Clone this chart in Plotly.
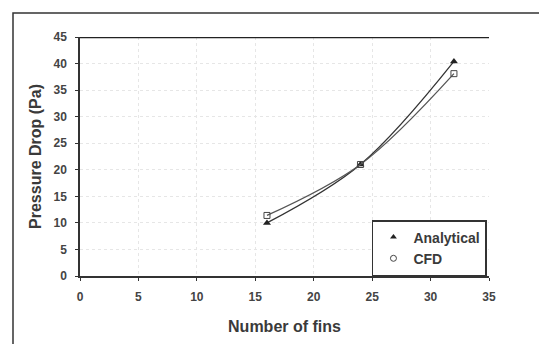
import plotly.graph_objects as go

fins = [16, 24, 32]
analytical = [10.0, 21.0, 40.4]
cfd = [11.4, 21.0, 38.1]

x_ticks = [0, 5, 10, 15, 20, 25, 30, 35]
y_ticks = [0, 5, 10, 15, 20, 25, 30, 35, 40, 45]

fig = go.Figure()
fig.add_trace(go.Scatter(x=fins, y=analytical, name="Analytical", mode="lines+markers",
                         showlegend=False,
                         line=dict(shape="spline", color="#333333", width=1.3),
                         marker=dict(symbol="triangle-up", size=7, color="#222222")))
fig.add_trace(go.Scatter(x=fins, y=cfd, name="CFD", mode="lines+markers",
                         showlegend=False,
                         line=dict(shape="spline", color="#555555", width=1.3),
                         marker=dict(symbol="square-open", size=6, color="#444444", line=dict(width=1))))
# legend entries (markers only, as in the reference)
fig.add_trace(go.Scatter(x=[None], y=[None], name="Analytical", mode="markers",
                         marker=dict(symbol="triangle-up", size=6, color="#222222")))
fig.add_trace(go.Scatter(x=[None], y=[None], name="CFD", mode="markers",
                         marker=dict(symbol="circle-open", size=6, color="#444444", line=dict(width=1))))

font = "Liberation Sans, Arial, sans-serif"
tfont = dict(family=font, size=12, color="#444444", weight="bold")
title_font = dict(family=font, size=16, color="#3a3a3a", weight="bold")
fig.update_layout(
    width=539, height=344,
    margin=dict(l=80, r=50, t=37, b=68),
    paper_bgcolor="white", plot_bgcolor="white",
    font=dict(family=font, color="#333333", size=12),
    showlegend=True,
    legend=dict(x=0.995, y=0.0, xanchor="right", yanchor="bottom",
                bordercolor="#333333", borderwidth=1.5, bgcolor="white",
                itemwidth=30, tracegroupgap=0,
                font=dict(family=font, size=14, color="#3a3a3a", weight="bold")),
    xaxis=dict(range=[0, 35], tickvals=x_ticks, showgrid=True, gridcolor="#e6e6e6",
               griddash="dot", gridwidth=1, zeroline=False, showline=True,
               linecolor="#333333", linewidth=1.5, ticks="outside", ticklen=3,
               tickcolor="#333333", tickfont=tfont, ticklabelstandoff=6,
               title=dict(text="Number of fins", font=title_font, standoff=18)),
    yaxis=dict(range=[0, 45], tickvals=y_ticks, showgrid=True, gridcolor="#e6e6e6",
               griddash="dot", gridwidth=1, zeroline=False, showline=True,
               linecolor="#333333", linewidth=1.5, ticks="outside", ticklen=3,
               tickcolor="#333333", tickfont=tfont, ticklabelstandoff=6,
               title=dict(text="Pressure Drop (Pa)", font=title_font, standoff=8)),
)
# top thick line at y=45
fig.add_shape(type="line", xref="x", yref="y", x0=0, x1=35, y0=45, y1=45,
              line=dict(color="#222222", width=2.5))
# outer frame (extends past image right/bottom)
fig.add_shape(type="rect", xref="paper", yref="paper",
              x0=-67/409, x1=1.3, y0=-0.5, y1=1 + 24/239,
              line=dict(color="#333333", width=1.5))
fig.write_html("out.html")
